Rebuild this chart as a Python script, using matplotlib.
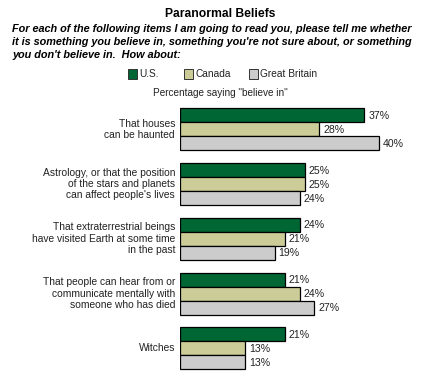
import matplotlib
matplotlib.use("Agg")
import matplotlib.pyplot as plt
from matplotlib.patches import Rectangle

categories = [
    "That houses\ncan be haunted",
    "Astrology, or that the position\nof the stars and planets\ncan affect people's lives",
    "That extraterrestrial beings\nhave visited Earth at some time\nin the past",
    "That people can hear from or\ncommunicate mentally with\nsomeone who has died",
    "Witches",
]
series_names = ["U.S.", "Canada", "Great Britain"]
us = [37, 25, 24, 21, 21]
canada = [28, 25, 21, 24, 13]
britain = [40, 24, 19, 27, 13]
colors = ["#006633", "#CCCC99", "#CCCCCC"]

W, H = 440, 375
fig = plt.figure(figsize=(W / 100, H / 100), dpi=100)
fig.patch.set_facecolor("white")
FONT = "Liberation Sans"
TXT = "#222222"

def fx(px):
    return px / W

def fy(py):
    return 1 - py / H

# Title and question
fig.text(fx(220), fy(14), "Paranormal Beliefs", ha="center", va="center",
         fontsize=8.7, fontweight="bold", family=FONT)
q_lines = ["For each of the following items I am going to read you, please tell me whether",
           "it is something you believe in, something you're not sure about, or something",
           "you don't believe in.  How about:"]
for k, line in enumerate(q_lines):
    fig.text(fx(12), fy(28.5 + 13.5 * k), line, ha="left", va="center", fontsize=7.85,
             fontweight="bold", fontstyle="italic", family=FONT)

# Legend
leg_x = [128, 184, 249]
for name, c, x in zip(series_names, colors, leg_x):
    fig.patches.append(Rectangle((fx(x), fy(79)), fx(9), 10 / H, transform=fig.transFigure,
                                 facecolor=c, edgecolor="#333333", linewidth=0.7))
    fig.text(fx(x + 11), fy(74), name, ha="left", va="center", fontsize=7.3,
             family=FONT, color=TXT)

fig.text(fx(220), fy(93), 'Percentage saying "believe in"', ha="center", va="center",
         fontsize=7.2, family=FONT, color=TXT)

# Bars axes: pixel-unit coordinates
ax_top, ax_bot = 100, 375
ax = fig.add_axes([fx(180), fy(ax_bot), fx(249), (ax_bot - ax_top) / H])
ax.set_xlim(0, 50)
ax.set_ylim(ax_bot - ax_top, 0)
ax.axis("off")

bar_h = 14
group_gap = 54.75
first = 8.3
for i, cat in enumerate(categories):
    top = first + i * group_gap
    for j, (vals, c) in enumerate(zip([us, canada, britain], colors)):
        yc = top + j * bar_h + bar_h / 2
        ax.barh(yc, vals[i], height=bar_h, color=c, edgecolor="black", linewidth=0.9)
        ax.text(vals[i] + 0.8, yc + 0.5, f"{vals[i]}%", ha="left", va="center",
                fontsize=7.6, family=FONT, color=TXT)
    ax.text(-1.0, top + 1.5 * bar_h, cat, ha="right", va="center", fontsize=7.4,
            family=FONT, color=TXT, linespacing=1.18, clip_on=False)

fig.savefig("out.png", dpi=100)
